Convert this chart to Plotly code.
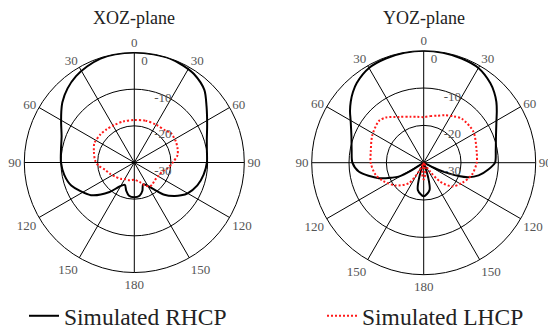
import plotly.graph_objects as go

# ---------------- data (angle in degrees, gain in dB) ----------------
xoz_rhcp_theta = [0, 10, 19, 27, 34, 44, 52, 58, 64, 72, 80, 90, 100, 110, 120, 125, 130, 137, 145,
                  152, 158, 164, 171, 180, 189, 196, 203, 212, 220, 233, 250, 260, 270, 280,
                  290, 298, 305, 310, 318, 326, 334, 342, 350, 360]
xoz_rhcp_db = [0, 0, 0, -0.4, -0.9, -2.5, -5.0, -6.6, -7.9, -9.2, -9.9, -10.2, -10.8, -11.7, -13.2,
               -14.4, -15.8, -18.0, -21.3, -23.0, -23.6, -22.0, -20.8, -20.5, -20.8, -22.0, -23.4,
               -22.2, -19.5, -15.2, -11.7, -10.6, -10.0, -9.7, -8.9, -7.4, -5.7, -4.4, -2.8,
               -1.6, -0.8, -0.2, 0, 0]

xoz_lhcp_theta = [0, 15, 30, 45, 51, 63, 72, 80, 90, 100, 108, 120, 130, 140, 147, 155, 165, 180,
                  195, 209, 220, 234, 245, 256, 265, 273, 285, 296, 310, 320, 332, 345, 360]
xoz_lhcp_db = [-18.4, -18.2, -18.1, -17.8, -17.2, -17.3, -17.6, -18.0, -19.5, -20.8, -22.0, -22.5,
               -22.6, -22.3, -22.2, -23.1, -24.5, -25.3, -25.0, -24.8, -24.2, -23.5, -22.7, -21.8,
               -20.2, -19.3, -18.6, -17.9, -18.0, -18.2, -18.4, -18.4, -18.4]

yoz_rhcp_theta = [0, 10, 20, 30, 40, 45, 50, 55, 60, 70, 80, 90, 96, 103, 108, 111, 113, 116, 120,
                  158, 163, 168, 180, 192, 197, 202, 234, 238, 241, 245, 251, 262, 270, 280, 290,
                  300, 305, 310, 315, 320, 330, 340, 350, 360]
yoz_rhcp_db = [0, -0.1, -0.3, -0.7, -2.2, -3.3, -4.6, -6.1, -7.5, -9.4, -10.4, -10.9, -12.6, -14.9,
               -17.4, -20.0, -22.7, -26.0, -30, -30, -26.0, -22.5, -21.0, -22.5, -26.0, -30, -30,
               -26.3, -22.3, -20.5, -17.3, -12.5, -10.9, -10.4, -9.4, -7.4, -5.9, -4.5, -3.2,
               -2.1, -0.7, -0.3, -0.1, 0]

yoz_lhcp_theta = [0, 8, 16, 24, 33, 41, 58, 78, 90, 104, 118, 130, 139, 144, 150, 165, 172, 180,
                  188, 195, 204, 209, 216, 231, 245, 256, 270, 282, 298, 313, 320, 332, 344,
                  352, 360]
yoz_lhcp_db = [-17.8, -17.4, -16.9, -16.1, -15.2, -14.4, -14.3, -15.5, -15.8, -16.7, -18.4, -20.1,
               -23.3, -27.0, -30, -30, -27.0, -25.5, -27.0, -30, -30, -27.3, -23.2, -20.3, -18.2,
               -16.7, -15.8, -15.5, -14.4, -13.6, -14.2, -16.1, -17.2, -17.6, -17.8]

plane_titles = ["XOZ-plane", "YOZ-plane"]
series_names = ["Simulated RHCP", "Simulated LHCP"]
angle_tickvals = [0, 30, 60, 90, 120, 150, 180, 210, 240, 270, 300, 330]
angle_ticktext = ["0", "30", "60", "90", "120", "150", "180", "150", "120", "90", "60", "30"]
radial_tickvals = [-30, -20, -10, 0]
radial_ticktext = ["-30", "-20", "-10", "0"]

# radial labels sit just right of, and just below, each ring (as in the original)
radial_labels = ["<br>" + "\u2007" * len(t) + t for t in radial_ticktext]

# ---------------- figure ----------------
W, H = 548, 329
fig = go.Figure()

rhcp_style = dict(color="black", width=2)
lhcp_style = dict(color="#ff1a1a", width=2, dash="2px,2px")

fig.add_trace(go.Scatterpolar(r=xoz_rhcp_db, theta=xoz_rhcp_theta, mode="lines",
                              line=dict(shape="spline", smoothing=0.8, **rhcp_style),
                              name=series_names[0], subplot="polar", legend="legend"))
fig.add_trace(go.Scatterpolar(r=xoz_lhcp_db, theta=xoz_lhcp_theta, mode="lines",
                              line=dict(shape="spline", smoothing=0.8, **lhcp_style),
                              name=series_names[1], subplot="polar", legend="legend2"))
fig.add_trace(go.Scatterpolar(r=yoz_rhcp_db, theta=yoz_rhcp_theta, mode="lines",
                              line=dict(shape="spline", smoothing=0.8, **rhcp_style),
                              name=series_names[0], subplot="polar2", showlegend=False))
fig.add_trace(go.Scatterpolar(r=yoz_lhcp_db, theta=yoz_lhcp_theta, mode="lines",
                              line=dict(shape="spline", smoothing=0.8, **lhcp_style),
                              name=series_names[1], subplot="polar2", showlegend=False))

serif = "Liberation Serif, Times New Roman, serif"


def polar_layout(cx, cy, rad):
    return dict(
        domain=dict(x=[(cx - rad) / W, (cx + rad) / W],
                    y=[(H - cy - rad) / H, (H - cy + rad) / H]),
        bgcolor="white",
        angularaxis=dict(direction="clockwise", rotation=90, tickmode="array",
                         tickvals=angle_tickvals, ticktext=angle_ticktext,
                         showline=True, linecolor="black", linewidth=1,
                         gridcolor="black", gridwidth=1, ticks="",
                         tickfont=dict(family=serif, size=13, color="#555")),
        radialaxis=dict(range=[-30, 0], tickmode="array", tickvals=radial_tickvals,
                        ticktext=radial_labels, angle=90, tickangle=90,
                        showline=False, gridcolor="black", gridwidth=1, ticks="",
                        tickfont=dict(family=serif, size=13, color="#555")),
    )


fig.update_layout(
    width=W, height=H,
    margin=dict(l=0, r=0, t=0, b=0, autoexpand=False),
    paper_bgcolor="white",
    polar=polar_layout(134.3, 162.5, 110),
    polar2=polar_layout(423.7, 162.7, 112),
    legend=dict(x=24 / W, y=(H - 316) / H, xanchor="left", yanchor="middle",
                font=dict(family=serif, size=23.5, color="#222"), bgcolor="rgba(0,0,0,0)"),
    legend2=dict(x=322 / W, y=(H - 316) / H, xanchor="left", yanchor="middle",
                 font=dict(family=serif, size=23.5, color="#222"), bgcolor="rgba(0,0,0,0)"),
    annotations=[
        dict(text=plane_titles[0], x=134 / W, y=(H - 18) / H, xref="paper", yref="paper",
             xanchor="center", yanchor="middle", showarrow=False,
             font=dict(family=serif, size=18, color="#222")),
        dict(text=plane_titles[1], x=424 / W, y=(H - 18) / H, xref="paper", yref="paper",
             xanchor="center", yanchor="middle", showarrow=False,
             font=dict(family=serif, size=18, color="#222")),
    ],
)

fig.write_html("out.html")
